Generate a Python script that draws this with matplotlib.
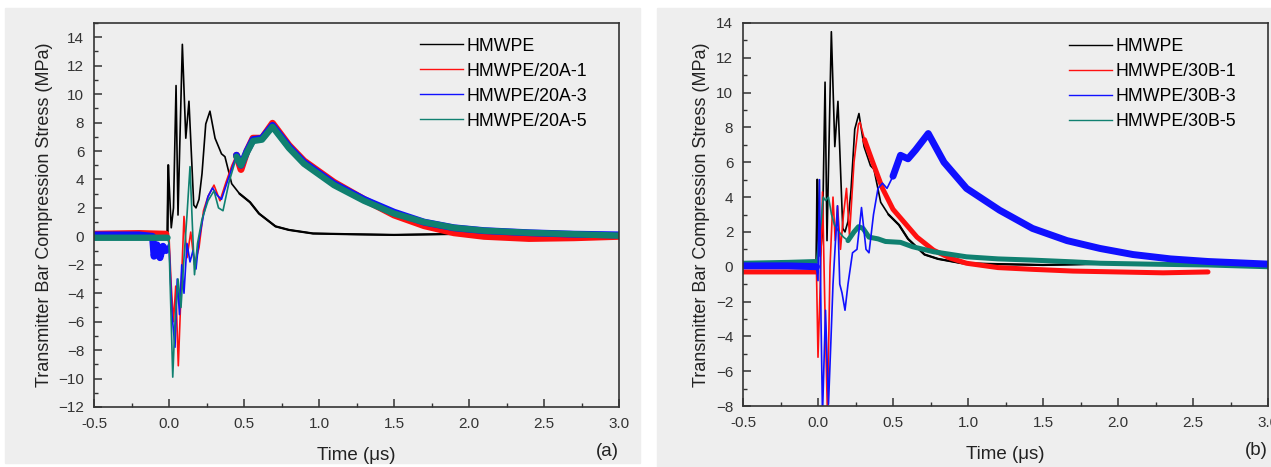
import numpy as np
import matplotlib
matplotlib.use('Agg')
import matplotlib.pyplot as plt
from matplotlib.patches import Rectangle
from matplotlib.ticker import MultipleLocator, FormatStrFormatter

plt.rcParams['font.family'] = ['Liberation Sans', 'DejaVu Sans']

# HMWPE reference trace (same in both panels)
t_ref = [-0.5, -0.3, -0.1, -0.01, -0.005, 0.015, 0.03, 0.047, 0.06, 0.089, 0.112, 0.133,
         0.165, 0.18, 0.2, 0.22, 0.245, 0.273, 0.307, 0.35, 0.373, 0.418, 0.47, 0.54,
         0.6, 0.71, 0.8, 0.96, 1.2, 1.5, 1.8, 2.08]
v_ref = [0.2, 0.25, 0.2, 0.3, 5.0, 0.6, 2.0, 10.6, 1.5, 13.5, 6.9, 9.5,
         2.2, 2.0, 2.6, 4.4, 7.9, 8.8, 6.9, 5.8, 5.6, 3.7, 3.0, 2.4,
         1.6, 0.7, 0.45, 0.2, 0.15, 0.1, 0.15, 0.2]

# panel (a)
t_a1 = [-0.5, -0.2, -0.02, 0.0, 0.015, 0.03, 0.045, 0.062, 0.08, 0.1, 0.12, 0.145, 0.17,
        0.2, 0.23, 0.26, 0.3, 0.34, 0.38, 0.42, 0.45, 0.48, 0.52, 0.56, 0.62, 0.69, 0.8,
        0.9, 1.1, 1.3, 1.5, 1.7, 1.9, 2.1, 2.4, 2.7, 3.0]
v_a1 = [0.15, 0.2, 0.15, 0.0, -3.5, -6.0, -3.5, -9.1, -4.0, 1.4, -1.5, 0.3, -2.0,
        -0.8, 1.8, 2.8, 3.6, 2.5, 3.8, 5.0, 5.7, 4.7, 6.0, 6.9, 6.9, 7.95, 6.4,
        5.3, 3.8, 2.6, 1.5, 0.75, 0.25, 0.0, -0.15, -0.1, 0.0]

t_a3 = [-0.5, -0.2, -0.11, -0.1, -0.08, -0.06, -0.04, -0.02, 0.0, 0.02, 0.04, 0.055, 0.07,
        0.085, 0.1, 0.12, 0.14, 0.16, 0.18, 0.2, 0.23, 0.26, 0.29, 0.32, 0.35, 0.4, 0.45,
        0.48, 0.52, 0.56, 0.62, 0.69, 0.8, 0.9, 1.1, 1.3, 1.5, 1.7, 1.9, 2.1, 2.4, 2.7, 3.0]
v_a3 = [0.1, 0.1, 0.0, -1.4, -0.6, -1.5, -0.7, -1.0, -0.5, -5.5, -7.8, -3.0, -5.5,
        -2.0, -4.0, -0.5, -1.8, -1.0, -2.3, -0.2, 1.5, 2.8, 3.4, 2.9, 2.6, 4.2, 5.7,
        5.0, 6.0, 6.8, 6.9, 7.8, 6.3, 5.2, 3.7, 2.6, 1.7, 1.0, 0.6, 0.4, 0.25, 0.15, 0.1]

t_a5 = [-0.5, -0.2, -0.01, 0.0, 0.012, 0.025, 0.04, 0.06, 0.08, 0.1, 0.12, 0.14, 0.155,
        0.17, 0.19, 0.22, 0.26, 0.3, 0.33, 0.36, 0.4, 0.45, 0.48, 0.52, 0.56, 0.62, 0.69,
        0.8, 0.9, 1.1, 1.3, 1.5, 1.7, 1.9, 2.1, 2.4, 2.7, 3.0]
v_a5 = [-0.1, -0.1, -0.1, -0.5, -5.0, -9.9, -6.0, -3.0, -5.0, -1.5, 1.5, 4.9, 1.0,
        -2.7, -0.5, 1.2, 2.5, 3.2, 2.0, 1.8, 3.8, 5.6, 5.0, 5.9, 6.7, 6.8, 7.7,
        6.2, 5.1, 3.6, 2.5, 1.6, 1.0, 0.6, 0.4, 0.25, 0.15, 0.05]

# panel (b)
t_b1 = [-0.5, -0.2, -0.01, 0.0, 0.015, 0.03, 0.045, 0.063, 0.08, 0.1, 0.115, 0.13, 0.15,
        0.17, 0.19, 0.21, 0.24, 0.27, 0.28, 0.31, 0.365, 0.43, 0.5, 0.55, 0.66, 0.77,
        0.88, 0.99, 1.2, 1.43, 1.7, 2.0, 2.3, 2.6]
v_b1 = [-0.3, -0.3, -0.3, -5.2, -1.0, 4.3, -2.0, -8.5, 0.0, 4.0, 1.5, 3.5, 1.0,
        3.0, 4.5, 1.8, 6.0, 8.2, 8.3, 7.3, 6.0, 4.5, 3.3, 2.8, 1.7, 0.95,
        0.5, 0.2, -0.05, -0.15, -0.25, -0.3, -0.35, -0.3]

t_b3 = [-0.5, -0.2, -0.01, 0.0, 0.01, 0.02, 0.03, 0.05, 0.07, 0.085, 0.1, 0.13, 0.145,
        0.16, 0.18, 0.2, 0.23, 0.26, 0.29, 0.32, 0.34, 0.37, 0.4, 0.43, 0.46, 0.5, 0.55,
        0.6, 0.65, 0.735, 0.84, 0.99, 1.21, 1.43, 1.66, 1.88, 2.1, 2.35, 2.6, 3.0]
v_b3 = [0.05, 0.05, 0.0, -0.8, 5.0, -3.0, -8.5, -2.5, -7.9, -4.5, -1.0, 3.5, -1.0,
        -1.5, -2.5, -1.0, 0.8, 1.0, 3.4, 1.0, 0.8, 3.0, 4.5, 4.8, 4.5, 5.2, 6.4,
        6.2, 6.7, 7.65, 6.0, 4.5, 3.25, 2.2, 1.5, 1.05, 0.7, 0.45, 0.3, 0.15]

t_b5 = [-0.5, -0.2, -0.01, 0.005, 0.02, 0.035, 0.05, 0.07, 0.09, 0.11, 0.14, 0.17, 0.2,
        0.24, 0.27, 0.3, 0.34, 0.4, 0.45, 0.55, 0.63, 0.77, 0.99, 1.2, 1.43, 1.7, 1.88,
        2.2, 2.6, 3.0]
v_b5 = [0.2, 0.25, 0.3, 1.5, 2.5, 4.0, 3.8, 4.0, 3.0, 2.4, 2.0, 1.7, 1.5,
        2.0, 2.3, 2.2, 1.7, 1.6, 1.45, 1.4, 1.15, 0.86, 0.57, 0.45, 0.38, 0.28, 0.2,
        0.15, 0.1, 0.0]

labels_a = ['HMWPE', 'HMWPE/20A-1', 'HMWPE/20A-3', 'HMWPE/20A-5']
labels_b = ['HMWPE', 'HMWPE/30B-1', 'HMWPE/30B-3', 'HMWPE/30B-5']
colors = ['black', '#ff1010', '#1010ff', '#108070']

BG = '#eeeeee'


def trace(ax, t, v, color, label, thick, t_end=0.44):
    t = np.asarray(t)
    v = np.asarray(v)
    ax.plot(t, v, color=color, lw=1.2, label=label)
    # noisy parts read as a band: draw them thicker outside the burst
    burst = (t > -0.005) & (t < t_end)
    ax.plot(t, np.where(burst, np.nan, v), color=color, lw=thick, solid_capstyle='round')


def style(ax, ylo, yhi, tag, labels):
    ax.set_facecolor(BG)
    ax.set_xlim(-0.5, 3.0)
    ax.xaxis.set_major_locator(MultipleLocator(0.5))
    ax.xaxis.set_minor_locator(MultipleLocator(0.25))
    ax.yaxis.set_minor_locator(MultipleLocator(1))
    ax.set_yticks(np.arange(ylo, 15, 2))
    ax.set_ylim(ylo, yhi)
    ax.xaxis.set_major_formatter(FormatStrFormatter('%.1f'))
    ax.tick_params(which='both', direction='in', top=False, right=False,
                   labelsize=11, colors='#333333', pad=7)
    ax.tick_params(which='major', length=6, width=1.1)
    ax.tick_params(which='minor', length=3, width=1.0)
    for s in ax.spines.values():
        s.set_color('#333333')
        s.set_linewidth(1.2)
    ax.set_xlabel('Time (\u03bcs)', fontsize=13.5, color='#222222', labelpad=12)
    ax.set_ylabel('Transmitter Bar Compression Stress (MPa)', fontsize=13,
                  color='#222222', labelpad=4)
    ax.text(1.0, -0.115, tag, transform=ax.transAxes, ha='right', va='center',
            fontsize=13.5, color='#222222')
    h, l = ax.get_legend_handles_labels()
    order = [l.index(x) for x in labels]
    leg = ax.legend([h[i] for i in order], labels, loc='upper right', frameon=False,
                    fontsize=12.8, handlelength=2.4, handletextpad=0.2,
                    labelspacing=0.45, borderaxespad=1.4, bbox_to_anchor=(1.0, 1.045))
    for hh in leg.get_lines():
        hh.set_linewidth(1.0)


fig = plt.figure(figsize=(12.71, 4.67), dpi=100)
fig.patches.append(Rectangle((5 / 1271, 1 - 463 / 467), 635 / 1271, 455 / 467,
                             transform=fig.transFigure, color=BG, zorder=-1))
fig.patches.append(Rectangle((657 / 1271, 0), 614 / 1271, 459 / 467,
                             transform=fig.transFigure, color=BG, zorder=-1))

ax1 = fig.add_axes([94 / 1271, 1 - 407 / 467, 525 / 1271, 384 / 467])
trace(ax1, t_ref, v_ref, colors[0], labels_a[0], 1.6)
trace(ax1, t_a1, v_a1, colors[1], labels_a[1], 5.0)
trace(ax1, t_a3, v_a3, colors[2], labels_a[2], 5.0)
trace(ax1, t_a5, v_a5, colors[3], labels_a[3], 4.6)
style(ax1, -12, 15, '(a)', labels_a)

ax2 = fig.add_axes([743 / 1271, 1 - 406 / 467, 525 / 1271, 383 / 467])
trace(ax2, t_ref, v_ref, colors[0], labels_b[0], 1.6)
trace(ax2, t_b1, v_b1, colors[1], labels_b[1], 3.6, 0.3)
trace(ax2, t_b5, v_b5, colors[3], labels_b[3], 3.6, 0.2)
trace(ax2, t_b3, v_b3, colors[2], labels_b[2], 5.0, 0.5)
style(ax2, -8, 14, '(b)', labels_b)

fig.savefig('out.png', dpi=100, facecolor='white')
